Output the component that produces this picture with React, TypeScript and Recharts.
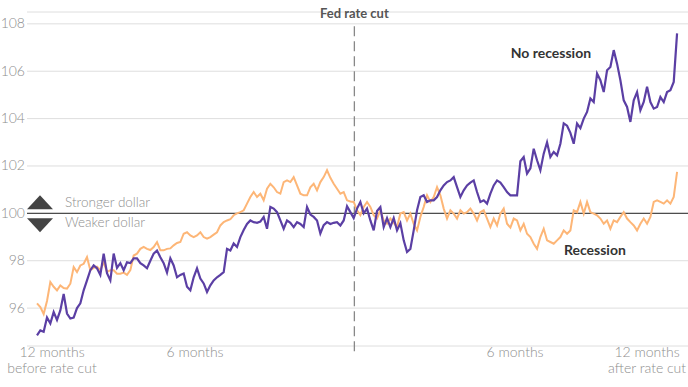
import { LineChart, Line, XAxis, YAxis, CartesianGrid, ReferenceLine, ReferenceDot } from "recharts";

// Dollar index rebased to 100 on the day of the first Fed rate cut
// one reading every 1/8 month, from 12 months before to 12 months after
const startMonth = -12;
const stepMonths = 0.125;

const noRecession = [
  94.85, 95.06, 95.0, 95.6, 95.35, 95.83, 95.5, 95.9, 96.6, 95.77,
  95.56, 95.6, 96.0, 96.2, 96.75, 97.17, 97.6, 97.8, 97.68, 97.4,
  98.3, 97.47, 97.17, 98.3, 97.7, 97.9, 97.6, 97.93, 97.9, 98.1,
  98.1, 97.9, 97.8, 97.68, 98.0, 98.3, 98.43, 98.15, 97.9, 97.5,
  98.1, 97.8, 97.3, 97.4, 97.46, 96.9, 96.75, 97.3, 97.68, 97.25,
  97.04, 96.68, 96.96, 97.17, 97.3, 97.4, 97.52, 98.5, 98.43, 98.73,
  98.58, 99.0, 99.3, 99.55, 99.7, 99.63, 99.6, 99.65, 99.85, 99.35,
  100.27, 100.2, 100.05, 99.7, 99.35, 99.7, 99.6, 99.42, 99.63, 99.55,
  99.42, 100.27, 99.95, 99.85, 99.7, 99.15, 99.5, 99.63, 99.55, 99.6,
  99.63, 99.49, 99.7, 100.3, 100.05, 99.8, 100.2, 100.48, 100.0, 100.2,
  99.7, 99.28, 100.1, 100.27, 99.42, 99.8, 99.42, 99.8, 99.28, 99.58,
  98.86, 98.37, 98.5, 99.28, 100.13, 100.69, 100.76, 100.48, 100.55, 100.55,
  100.69, 100.97, 101.18, 101.32, 101.39, 101.53, 101.11, 100.69, 100.97, 101.18,
  101.3, 101.39, 100.9, 100.48, 100.55, 100.41, 100.83, 101.18, 101.39, 101.3,
  101.11, 100.9, 100.76, 100.76, 100.76, 102.2, 102.38, 101.68, 101.9, 102.73,
  102.24, 101.82, 102.52, 103.0, 102.38, 102.59, 102.45, 102.94, 103.8, 103.7,
  103.4, 102.94, 103.79, 103.6, 104.0, 104.28, 104.85, 104.7, 105.9, 105.62,
  105.12, 106.04, 106.18, 106.89, 106.32, 105.62, 104.77, 104.49, 103.86, 104.77,
  105.12, 104.35, 104.7, 105.34, 104.7, 104.42, 104.49, 104.91, 104.7, 105.12,
  105.2, 105.55, 107.6,
];

const recession = [
  96.2, 96.04, 95.75, 96.3, 97.1, 96.9, 96.75, 96.96, 96.85, 96.82,
  97.03, 97.73, 97.52, 97.8, 97.87, 98.15, 97.6, 97.7, 97.75, 97.6,
  97.94, 97.52, 97.6, 97.6, 97.45, 97.45, 97.5, 97.4, 97.6, 98.22,
  98.3, 98.5, 98.58, 98.5, 98.45, 98.58, 98.79, 98.44, 98.44, 98.5,
  98.52, 98.65, 98.75, 98.79, 99.14, 99.2, 99.07, 99.0, 99.07, 99.2,
  99.0, 98.93, 99.0, 99.1, 99.2, 99.49, 99.63, 99.7, 99.75, 99.92,
  100.0, 100.05, 100.13, 100.41, 100.69, 100.9, 100.69, 100.83, 100.55, 101.04,
  101.25, 101.1, 100.9, 100.83, 101.32, 101.39, 101.32, 101.53, 101.18, 100.83,
  100.76, 100.76, 101.1, 101.25, 100.97, 101.32, 101.53, 101.82, 101.5, 101.25,
  101.04, 100.83, 100.9, 100.55, 100.5, 100.48, 100.13, 99.92, 100.27, 100.48,
  100.27, 99.92, 99.78, 100.13, 99.7, 99.56, 99.78, 99.6, 99.42, 99.99,
  100.05, 99.7, 99.99, 99.56, 99.28, 99.85, 100.27, 100.76, 100.48, 100.69,
  101.11, 100.76, 100.2, 99.78, 100.13, 99.99, 99.78, 100.13, 99.99, 100.05,
  100.2, 99.99, 99.7, 100.05, 100.13, 99.78, 99.42, 99.78, 99.49, 99.99,
  100.2, 99.56, 99.4, 99.78, 99.7, 99.28, 99.56, 99.14, 99.0, 98.72,
  98.5, 99.0, 99.35, 98.86, 98.79, 98.72, 98.86, 99.0, 99.28, 99.14,
  99.28, 100.13, 100.05, 100.48, 99.99, 100.48, 100.05, 99.99, 99.92, 99.78,
  99.56, 99.7, 99.35, 99.7, 99.63, 99.85, 100.05, 99.78, 99.63, 99.49,
  99.28, 99.56, 99.78, 99.56, 99.85, 100.48, 100.55, 100.48, 100.41, 100.55,
  100.41, 100.69, 101.75,
];

const yTicks = [96, 98, 100, 102, 104, 106, 108];
const xTicks = [-12, -6, 6, 12];
const xTickLabels: Record<number, string[]> = {
  "-12": ["12 months", "before rate cut"],
  "-6": ["6 months"],
  "6": ["6 months"],
  "12": ["12 months", "after rate cut"],
};

const rows = noRecession.map((v, i) => ({
  month: startMonth + i * stepMonths,
  noRecession: v,
  recession: recession[i],
}));

const FONT = "Lato, 'Open Sans', sans-serif";
const PURPLE = "#5b3fa4";
const ORANGE = "#fdb677";
const GREY_TEXT = "#8e8e8e";

const YTick = (props: any) => (
  <text x={25} y={props.y + 4.5} textAnchor="end" fontFamily={FONT} fontSize={14} fontWeight={300} fill={GREY_TEXT}>
    {props.payload.value}
  </text>
);

const XTick = (props: any) => {
  const v = props.payload.value;
  const lines = xTickLabels[v] || [];
  // the edge labels are pulled inwards so they fit
  const shift = v === -12 ? 15 : v === 12 ? -30 : -2;
  return (
    <g>
      {lines.map((t, i) => (
        <text key={i} x={props.x + shift} y={357 + i * 16} textAnchor="middle" fontFamily={FONT} fontSize={14} fontWeight={300} fill={GREY_TEXT}>
          {t}
        </text>
      ))}
    </g>
  );
};

const DollarKey = (props: any) => {
  const y = props.viewBox.y;
  return (
    <g>
      <polygon points={`27,${y - 4} 53,${y - 4} 40,${y - 18}`} fill="#444" />
      <polygon points={`27,${y + 5} 53,${y + 5} 40,${y + 19}`} fill="#444" />
      <text x={65} y={y - 6} fontFamily={FONT} fontSize={13.5} fontWeight={300} fill={GREY_TEXT}>Stronger dollar</text>
      <text x={65} y={y + 14} fontFamily={FONT} fontSize={13.5} fontWeight={300} fill={GREY_TEXT}>Weaker dollar</text>
    </g>
  );
};

const CutLabel = (props: any) => (
  <text x={props.viewBox.x} y={18} textAnchor="middle" fontFamily={FONT} fontSize={13} fontWeight="bold" fill="#555">
    Fed rate cut
  </text>
);

const seriesLabel = (text: string) => (props: any) => (
  <text x={props.cx} y={props.cy} textAnchor="middle" dominantBaseline="central" fontFamily={FONT} fontSize={14} fontWeight="bold" fill="#333">
    {text}
  </text>
);

export default function App() {
  return (
    <div style={{ width: 688, height: 387 }}>
      <style>{`body{margin:0}`}</style>
      <LineChart width={688} height={387} data={rows} margin={{ top: 12, right: 0, bottom: 0, left: 0 }}>
        <CartesianGrid vertical={false} stroke="#dedede" />
        <XAxis
          dataKey="month"
          type="number"
          domain={[-12.375, 12.41]}
          ticks={xTicks}
          axisLine={false}
          tickLine={false}
          height={41}
          tick={<XTick />}
          allowDataOverflow
        />
        <YAxis
          type="number"
          domain={[94.4, 108.5]}
          ticks={yTicks}
          axisLine={false}
          tickLine={false}
          width={27}
          tick={<YTick />}
          allowDataOverflow
        />
        <ReferenceLine y={100} stroke="#4d4d4d" strokeWidth={1.2} label={DollarKey} />
        <ReferenceLine
          segment={[{ x: -0.1, y: 107.9 }, { x: -0.1, y: 94.0 }]}
          ifOverflow="visible"
          stroke="#888"
          strokeWidth={1.3}
          strokeDasharray="10 5"
          label={CutLabel}
        />
        <Line type="linear" dataKey="recession" stroke={ORANGE} strokeWidth={2} dot={false} isAnimationActive={false} />
        <Line type="linear" dataKey="noRecession" stroke={PURPLE} strokeWidth={2.2} dot={false} isAnimationActive={false} />
        <ReferenceDot x={7.27} y={106.77} r={0} shape={seriesLabel("No recession")} />
        <ReferenceDot x={8.92} y={98.49} r={0} shape={seriesLabel("Recession")} />
      </LineChart>
    </div>
  );
}
